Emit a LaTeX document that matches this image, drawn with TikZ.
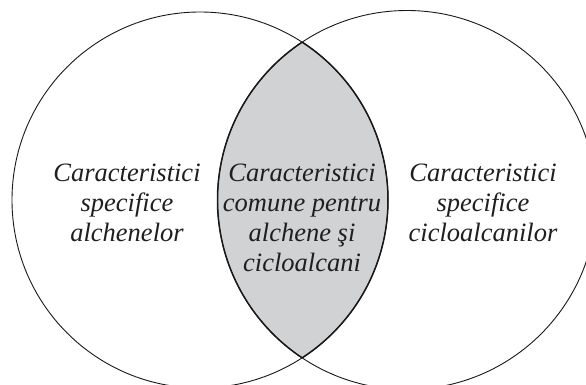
\documentclass[tikz,border=0pt]{standalone}
\usepackage{fontspec}
\setmainfont{Liberation Serif}
\begin{document}
\begin{tikzpicture}[x=1pt,y=-1pt,
  ring/.style={draw=black!90,line width=0.9pt},
  lensedge/.style={draw=black!90,line width=1.5pt},
  label/.style={align=center,inner sep=0pt,font=\itshape\fontsize{26.5}{30}\selectfont,text=black!88}]
  \definecolor{lensgray}{RGB}{209,210,212}
  \useasboundingbox (0,0) rectangle (586,385);
  \begin{scope}
    \clip (0,0) rectangle (586,385);
    % shared region of the two sets
    \begin{scope}
      \clip (200,200) circle (188);
      \fill[lensgray] (407,200) circle (189.5);
      \draw[lensedge] (407,200) circle (189.5);
    \end{scope}
    \begin{scope}
      \clip (407,200) circle (189.5);
      \draw[lensedge] (200,200) circle (188);
    \end{scope}
    \draw[ring] (200,200) circle (188);
    \draw[ring] (407,200) circle (189.5);
  \end{scope}
  \node[label] (alk) at (127,203) {Caracteristici\\specifice\\alchenelor};
  \node[label] (com) at (302,218) {Caracteristici\\comune pentru\\alchene şi\\cicloalcani};
  \node[label] (cyc) at (483,203) {Caracteristici\\specifice\\cicloalcanilor};
\end{tikzpicture}
\end{document}
